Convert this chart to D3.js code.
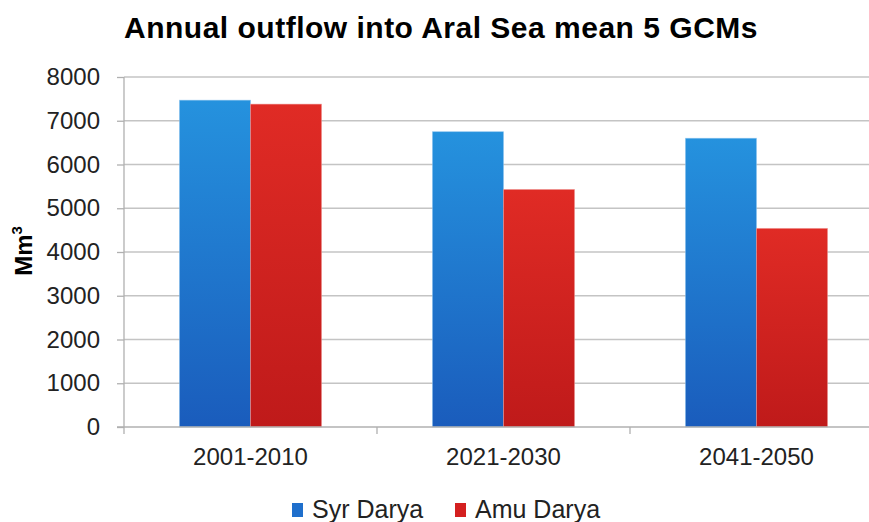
<!DOCTYPE html>
<html>
<head>
<meta charset="utf-8">
<script src="https://cdn.jsdelivr.net/npm/d3@7"></script>
<style>
  body { margin: 0; background: #fff; }
  svg { display: block; font-family: "Liberation Sans", Arial, sans-serif; }
</style>
</head>
<body>
<div id="chart"></div>
<script>
const categories = ["2001-2010", "2021-2030", "2041-2050"];
const seriesNames = ["Syr Darya", "Amu Darya"];
const syrDarya = [7470, 6750, 6600];
const amuDarya = [7380, 5430, 4540];
const yTicks = [0, 1000, 2000, 3000, 4000, 5000, 6000, 7000, 8000];

const width = 869, height = 522;
const margin = { top: 77, left: 124, bottom: 95 };
const plotRight = 883;

const svg = d3.select("#chart").append("svg")
  .attr("width", width).attr("height", height);

const defs = svg.append("defs");
const grads = [
  { id: "gradBlue", top: "#2592de", bottom: "#1a5cbc" },
  { id: "gradRed", top: "#e02b25", bottom: "#bf1a1a" }
];
grads.forEach(g => {
  const lg = defs.append("linearGradient").attr("id", g.id)
    .attr("x1", 0).attr("y1", 0).attr("x2", 0).attr("y2", 1);
  lg.append("stop").attr("offset", "0%").attr("stop-color", g.top);
  lg.append("stop").attr("offset", "100%").attr("stop-color", g.bottom);
});
const legendColors = ["#1f6fcc", "#d42020"];

const y = d3.scaleLinear().domain([0, 8000]).range([height - margin.bottom, margin.top]);
const x0 = d3.scaleBand().domain(categories).range([margin.left, plotRight]).paddingInner(0).paddingOuter(0);
const x1 = d3.scaleBand().domain(seriesNames).range([0, x0.bandwidth()]).paddingInner(0).paddingOuter(0.78);

// gridlines
svg.append("g")
  .selectAll("line")
  .data(yTicks.filter(d => d > 0))
  .join("line")
  .attr("x1", margin.left).attr("x2", plotRight)
  .attr("y1", d => y(d)).attr("y2", d => y(d))
  .attr("stroke", "#c4c4c4").attr("stroke-width", 1.3);

// y axis
const yAxis = svg.append("g")
  .attr("transform", `translate(${margin.left},0)`)
  .call(d3.axisLeft(y).tickValues(yTicks).tickSize(7).tickPadding(17).tickFormat(d3.format("d")));
yAxis.select(".domain").attr("stroke", "#b0b0b0").attr("stroke-width", 1.3)
  .attr("d", `M0,${y(8000)}V${y(0)}`);
yAxis.selectAll(".tick line").attr("stroke", "#b0b0b0").attr("stroke-width", 1.3);
yAxis.selectAll(".tick text").attr("font-size", 24).attr("fill", "#222")
  .attr("font-family", "Liberation Sans, Arial, sans-serif");

// bars
const groups = svg.append("g").selectAll("g")
  .data(categories.map((c, i) => ({ cat: c, vals: [syrDarya[i], amuDarya[i]] })))
  .join("g")
  .attr("transform", d => `translate(${x0(d.cat)},0)`);

groups.selectAll("rect")
  .data(d => d.vals.map((v, j) => ({ key: seriesNames[j], v, j })))
  .join("rect")
  .attr("x", d => x1(d.key))
  .attr("width", x1.bandwidth())
  .attr("y", d => y(d.v))
  .attr("height", d => y(0) - y(d.v))
  .attr("fill", d => `url(#${grads[d.j].id})`)
  .attr("stroke", d => d.j === 0 ? "#8cc4ee" : "#ee9a98")
  .attr("stroke-width", 0.8)
  .attr("stroke-opacity", 0.6);

// x axis
const xAxis = svg.append("g")
  .attr("transform", `translate(0,${y(0)})`)
  .call(d3.axisBottom(x0).tickSize(0));
xAxis.select(".domain").attr("stroke", "#b0b0b0").attr("stroke-width", 1.3)
  .attr("d", `M${margin.left - 7},0H${plotRight}`);
xAxis.selectAll(".tick text").attr("font-size", 24).attr("fill", "#222")
  .attr("y", 38).attr("dy", null)
  .attr("font-family", "Liberation Sans, Arial, sans-serif");
xAxis.append("g").selectAll("line")
  .data(categories.map(c => x0(c)))
  .join("line")
  .attr("x1", d => d).attr("x2", d => d)
  .attr("y1", 0).attr("y2", 7)
  .attr("stroke", "#b0b0b0").attr("stroke-width", 1.3);

// title
svg.append("text")
  .attr("x", 441).attr("y", 38)
  .attr("text-anchor", "middle")
  .attr("font-size", 30).attr("font-weight", "bold").attr("fill", "#000")
  .attr("letter-spacing", 0.5)
  .text("Annual outflow into Aral Sea mean 5 GCMs");

// y label
const yl = svg.append("text")
  .attr("transform", `translate(32,251) rotate(-90)`)
  .attr("text-anchor", "middle")
  .attr("font-size", 24).attr("font-weight", "bold").attr("fill", "#000");
yl.append("tspan").text("Mm");
yl.append("tspan").attr("font-size", 15).attr("dy", -10).text("3");

// legend
const legendX = [292, 455];
const legend = svg.append("g").selectAll("g")
  .data(seriesNames)
  .join("g")
  .attr("transform", (d, i) => `translate(${legendX[i]},503)`);
legend.append("rect")
  .attr("width", 11).attr("height", 14).attr("y", 0)
  .attr("fill", (d, i) => legendColors[i]);
legend.append("text")
  .attr("x", 20).attr("y", 15)
  .attr("font-size", 25).attr("fill", "#222")
  .text(d => d);
</script>
</body>
</html>
